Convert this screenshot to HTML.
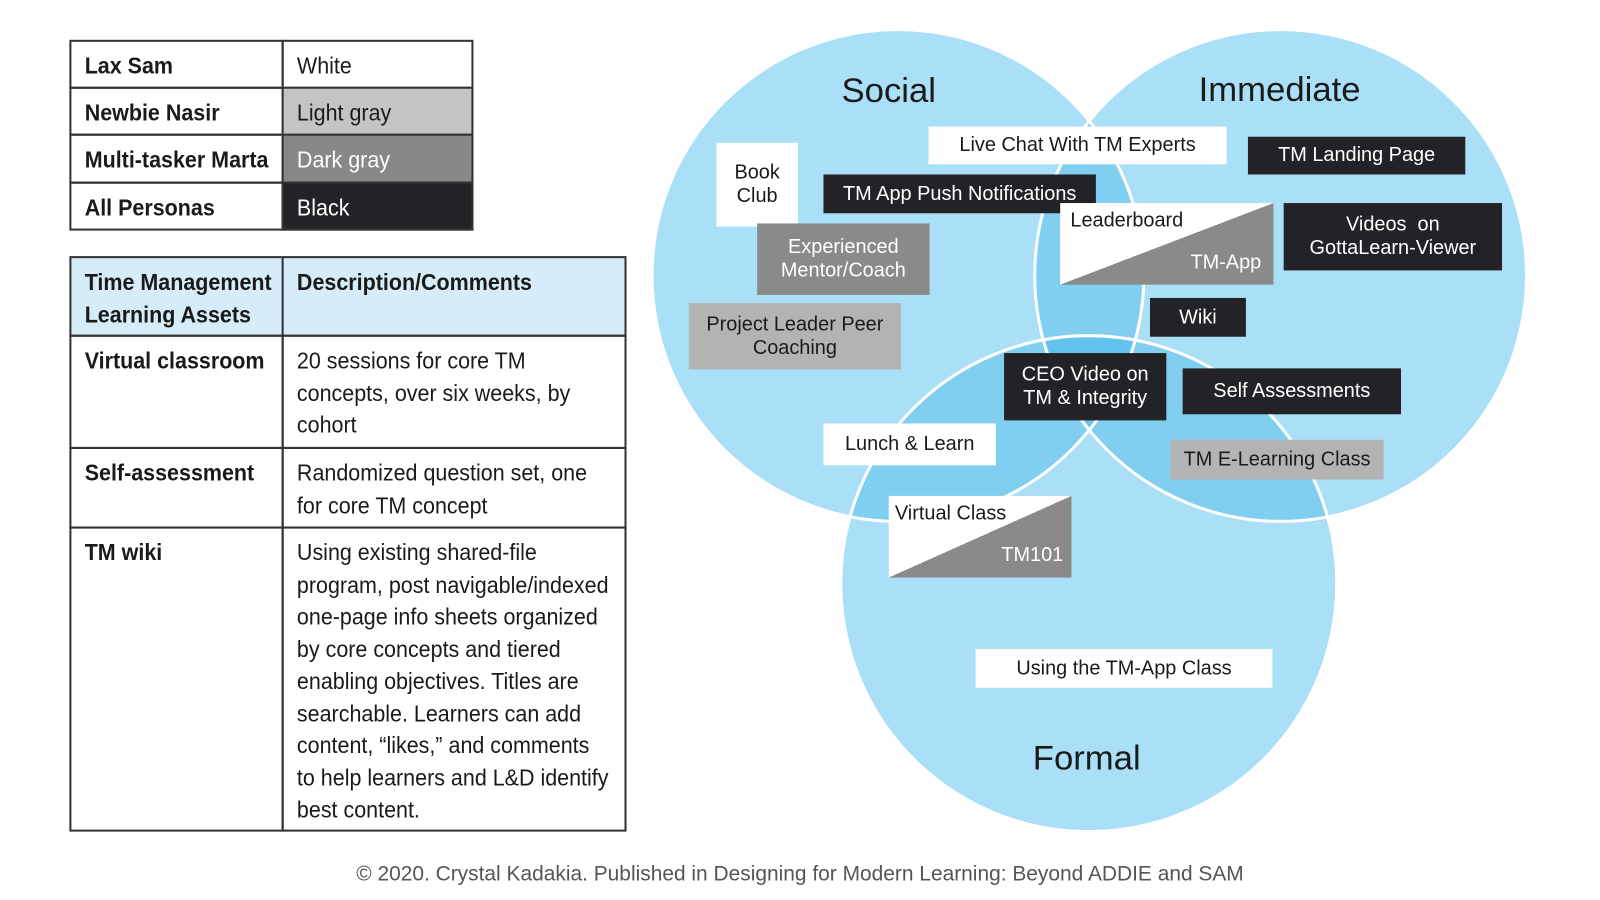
<!DOCTYPE html>
<html><head><meta charset="utf-8"><style>
body{margin:0;width:1600px;height:900px;background:#fff;position:relative;overflow:hidden;font-family:"Liberation Sans",sans-serif}
#wrap{position:absolute;left:0;top:0;width:1568px;height:882px;transform:scale(1.0204);transform-origin:0 0}
.t{position:absolute;left:0;top:0;font-size:23px;color:#1a1a1a}
.c{position:absolute;box-sizing:border-box;border:2px solid #333;padding-left:13px;white-space:nowrap;overflow:hidden}
.c>div{transform:scaleX(.915);transform-origin:0 0}
.b{font-weight:bold}
.bx{position:absolute;box-sizing:border-box;display:flex;align-items:center;justify-content:center;text-align:center;font-size:19.5px;line-height:23px;color:#1a1a1a;white-space:nowrap}
.k{background:#232327;color:#fff}
.w{background:#fff}
.dg{background:#8a8a8a;color:#fff}
.lg{background:#b3b3b3}
</style></head><body><div id="wrap">
<div class="t">
<div class="c b" style="left:68px;top:39px;width:210px;height:48px;line-height:46px"><div>Lax Sam</div></div>
<div class="c" style="left:276px;top:39px;width:188px;height:48px;line-height:46px"><div>White</div></div>
<div class="c b" style="left:68px;top:85px;width:210px;height:48px;line-height:46px"><div>Newbie Nasir</div></div>
<div class="c" style="left:276px;top:85px;width:188px;height:48px;line-height:46px;background:#c4c4c4"><div>Light gray</div></div>
<div class="c b" style="left:68px;top:131px;width:210px;height:49px;line-height:47px"><div>Multi-tasker Marta</div></div>
<div class="c" style="left:276px;top:131px;width:188px;height:49px;line-height:47px;background:#888;color:#fff"><div>Dark gray</div></div>
<div class="c b" style="left:68px;top:178px;width:210px;height:48px;line-height:46px"><div>All Personas</div></div>
<div class="c" style="left:276px;top:178px;width:188px;height:48px;line-height:46px;background:#232327;color:#fff"><div>Black</div></div>
</div>
<div class="t" style="line-height:31.5px">
<div class="c b" style="left:68px;top:251px;width:210px;height:79px;background:#d6ecf9;padding-top:8px"><div>Time Management<br>Learning Assets</div></div>
<div class="c b" style="left:276px;top:251px;width:338px;height:79px;background:#d6ecf9;padding-top:8px"><div>Description/Comments</div></div>
<div class="c b" style="left:68px;top:328px;width:210px;height:112px;padding-top:8px"><div>Virtual classroom</div></div>
<div class="c" style="left:276px;top:328px;width:338px;height:112px;padding-top:8px"><div>20 sessions for core TM<br>concepts, over six weeks, by<br>cohort</div></div>
<div class="c b" style="left:68px;top:438px;width:210px;height:80px;padding-top:8px"><div>Self-assessment</div></div>
<div class="c" style="left:276px;top:438px;width:338px;height:80px;padding-top:8px"><div>Randomized question set, one<br>for core TM concept</div></div>
<div class="c b" style="left:68px;top:516px;width:210px;height:299px;padding-top:8px"><div>TM wiki</div></div>
<div class="c" style="left:276px;top:516px;width:338px;height:299px;padding-top:8px"><div>Using existing shared-file<br>program, post navigable/indexed<br>one-page info sheets organized<br>by core concepts and tiered<br>enabling objectives. Titles are<br>searchable. Learners can add<br>content, “likes,” and comments<br>to help learners and L&amp;D identify<br>best content.</div></div>
</div>
<svg style="position:absolute;left:0;top:0" width="1568" height="882">
<defs>
<clipPath id="cs"><circle cx="880" cy="270" r="241"/></clipPath>
<clipPath id="ci"><circle cx="1255" cy="270" r="241"/></clipPath>
</defs>
<circle cx="880" cy="270" r="241" fill="#aadff8"/>
<circle cx="1255" cy="270" r="241" fill="#aadff8"/>
<circle cx="1067" cy="572" r="243" fill="#aadff8"/>
<g clip-path="url(#cs)"><circle cx="1255" cy="270" r="241" fill="#80cff0"/><circle cx="1067" cy="572" r="243" fill="#80cff0"/></g>
<g clip-path="url(#ci)"><circle cx="1067" cy="572" r="243" fill="#80cff0"/></g>
<g clip-path="url(#cs)"><g clip-path="url(#ci)"><circle cx="1067" cy="572" r="243" fill="#62c4ee"/></g></g>
<circle cx="880" cy="270" r="241" fill="none" stroke="#fff" stroke-width="3"/>
<circle cx="1255" cy="270" r="241" fill="none" stroke="#fff" stroke-width="3"/>
<circle cx="1067" cy="572" r="243" fill="none" stroke="#fff" stroke-width="3"/>
<g font-family="Liberation Sans, sans-serif" font-size="34" fill="#1a1a1a" text-anchor="middle">
<text x="871" y="100">Social</text>
<text x="1254" y="99">Immediate</text>
<text x="1065" y="754">Formal</text>
</g>
</svg>
<div class="bx w" style="left:910px;top:124px;width:292px;height:37px">Live Chat With TM Experts</div>
<div class="bx k" style="left:1223px;top:134px;width:213px;height:37px">TM Landing Page</div>
<div class="bx w" style="left:702px;top:140px;width:80px;height:82px">Book<br>Club</div>
<div class="bx k" style="left:807px;top:171px;width:267px;height:38px">TM App Push Notifications</div>
<div class="bx" style="left:1039px;top:199px;width:209px;height:80px;background:linear-gradient(to top left,#8a8a8a 50%,#fff 50%);display:block;text-align:left">
<span style="position:absolute;left:10px;top:6px">Leaderboard</span><span style="position:absolute;right:12px;bottom:10px;color:#fff">TM-App</span></div>
<div class="bx k" style="left:1258px;top:199px;width:214px;height:66px">Videos &nbsp;on<br>GottaLearn-Viewer</div>
<div class="bx dg" style="left:742px;top:219px;width:169px;height:70px">Experienced<br>Mentor/Coach</div>
<div class="bx lg" style="left:675px;top:297px;width:208px;height:65px">Project Leader Peer<br>Coaching</div>
<div class="bx k" style="left:1127px;top:292px;width:94px;height:38px">Wiki</div>
<div class="bx k" style="left:984px;top:346px;width:159px;height:66px">CEO Video on<br>TM &amp; Integrity</div>
<div class="bx k" style="left:1159px;top:361px;width:214px;height:45px">Self Assessments</div>
<div class="bx w" style="left:807px;top:415px;width:169px;height:41px">Lunch &amp; Learn</div>
<div class="bx lg" style="left:1147px;top:431px;width:209px;height:39px">TM E-Learning Class</div>
<div class="bx" style="left:871px;top:486px;width:179px;height:80px;background:linear-gradient(to top left,#8a8a8a 50%,#fff 50%);display:block;text-align:left">
<span style="position:absolute;left:6px;top:6px">Virtual Class</span><span style="position:absolute;right:8px;bottom:10px;color:#fff">TM101</span></div>
<div class="bx w" style="left:956px;top:636px;width:291px;height:38px">Using the TM-App Class</div>
<div style="position:absolute;left:0;width:1568px;top:845px;text-align:center;font-size:20.5px;color:#555">© 2020. Crystal Kadakia. Published in Designing for Modern Learning: Beyond ADDIE and SAM</div>
</div></body></html>
